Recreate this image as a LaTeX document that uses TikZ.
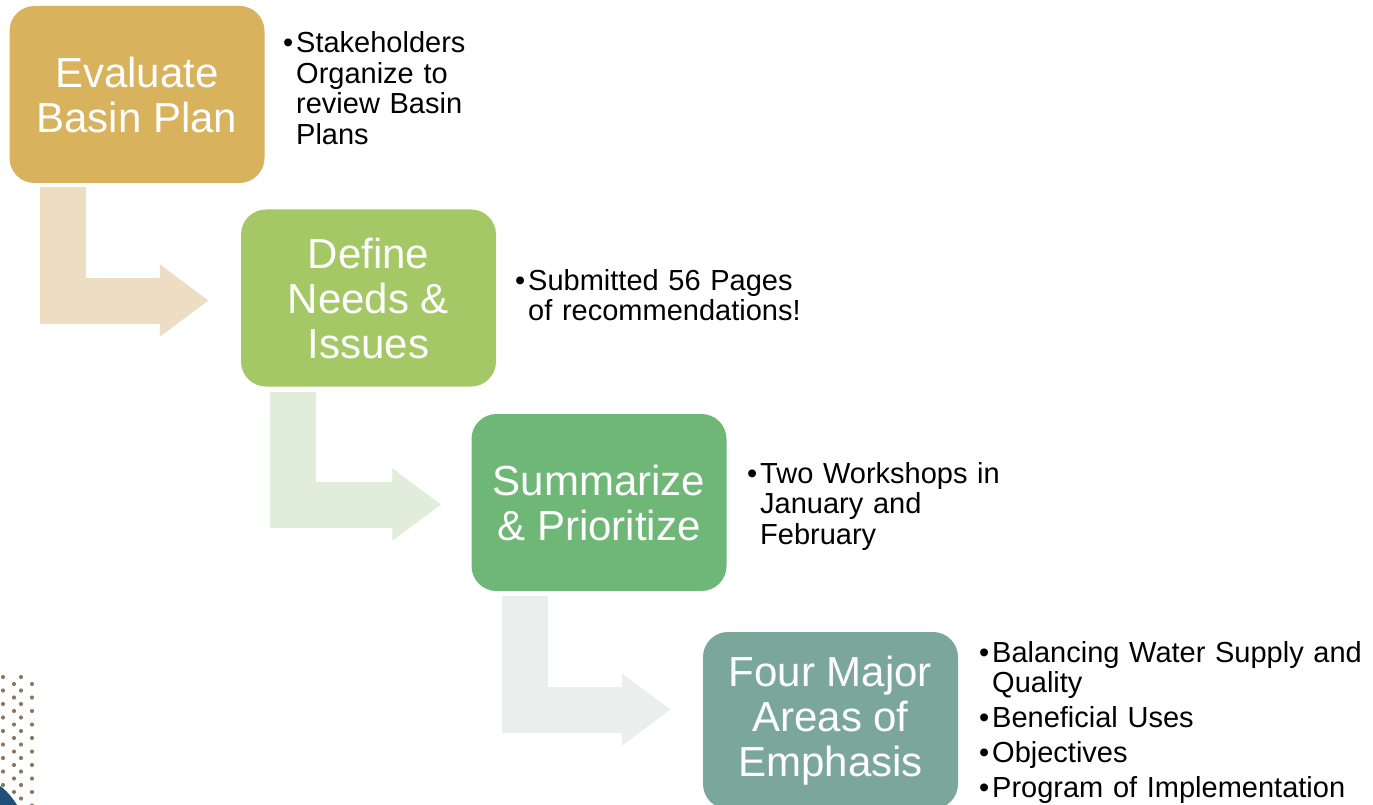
\documentclass[tikz,border=0pt]{standalone}
\usepackage{fontspec}
\setmainfont{Liberation Sans}
\usepackage{tikz}
\usetikzlibrary{arrows.meta}
\definecolor{gold}{HTML}{D8B25C}
\definecolor{lime}{HTML}{A4C866}
\definecolor{leaf}{HTML}{6FB776}
\definecolor{sage}{HTML}{7BA79A}
\definecolor{goldpale}{HTML}{EDDDC3}
\definecolor{limepale}{HTML}{DFEDDA}
\definecolor{sagepale}{HTML}{EAEEEC}
\definecolor{dotc}{HTML}{8C7A5E}
\definecolor{deepblue}{HTML}{1F4E79}
\tikzstyle{stage}=[rectangle, rounded corners=25pt, minimum width=255pt, minimum height=177pt, inner sep=0pt, text=white, align=center, font=\fontsize{42}{45}\selectfont]
\tikzstyle{note}=[anchor=base west, inner sep=0pt, align=left, font=\fontsize{29}{30.5}\selectfont]
\tikzstyle{flow}=[line width=46pt, line join=miter, -{Triangle[length=49pt, width=69pt]}]
\newcommand{\bitem}[1]{\noindent\hangindent=13pt\hangafter=1\makebox[13pt][l]{•}#1\par}

\begin{document}
\begin{tikzpicture}[x=1pt, y=-1pt]
	\useasboundingbox (0,0) rectangle (1373,805);
	% stages
	\node[stage, fill=gold] (evaluate) at (137,94.5) {Evaluate\\Basin Plan};
	\node[stage, fill=lime] (define) at (368.5,298) {Define\\Needs \&\\Issues};
	\node[stage, fill=leaf] (summarize) at (599,502.5) {Summarize\\\& Prioritize};
	\node[stage, fill=sage] (areas) at (830.5,720.5) {Four Major\\Areas of\\Emphasis};
	% bent arrows
	\draw[flow, goldpale] ([xshift=54pt, yshift=-4pt]evaluate.south west) |- ([xshift=-32pt, yshift=-2.5pt]define.west);
	\draw[flow, limepale] ([xshift=52.5pt, yshift=-5pt]define.south west) |- ([xshift=-30pt, yshift=-2pt]summarize.west);
	\draw[flow, sagepale] ([xshift=53.5pt, yshift=-5pt]summarize.south west) |- ([xshift=-32pt, yshift=11pt]areas.west);
	% notes
	\node[note, text width=200pt] (n1) at (283,53) {\bitem{Stakeholders\newline Organize to\newline review Basin\newline Plans}};
	\node[note, text width=290pt] (n2) at (515,290) {\bitem{Submitted 56 Pages\newline of recommendations!}};
	\node[note, text width=270pt] (n3) at (747,483) {\bitem{Two Workshops in\newline January and\newline February}};
	\node[note, text width=393pt] (n4) at (979,662) {\setlength{\parskip}{4.5pt}\bitem{Balancing Water Supply and\newline Quality}\bitem{Beneficial Uses}\bitem{Objectives}\bitem{Program of Implementation}};
	% dot pattern
	\foreach \k in {0,...,9} {
		\fill[dotc] (3,677+13.5*\k) circle (2.1pt);
		\fill[dotc] (21,677+13.5*\k) circle (2.1pt);
		\fill[dotc] (14,684+13.5*\k) circle (2.1pt);
		\fill[dotc] (32,684+13.5*\k) circle (2.1pt);
	}
	\fill[deepblue] (0,786) .. controls (6,790) and (12,797) .. (17,805) -- (0,805) -- cycle;
\end{tikzpicture}
\end{document}
